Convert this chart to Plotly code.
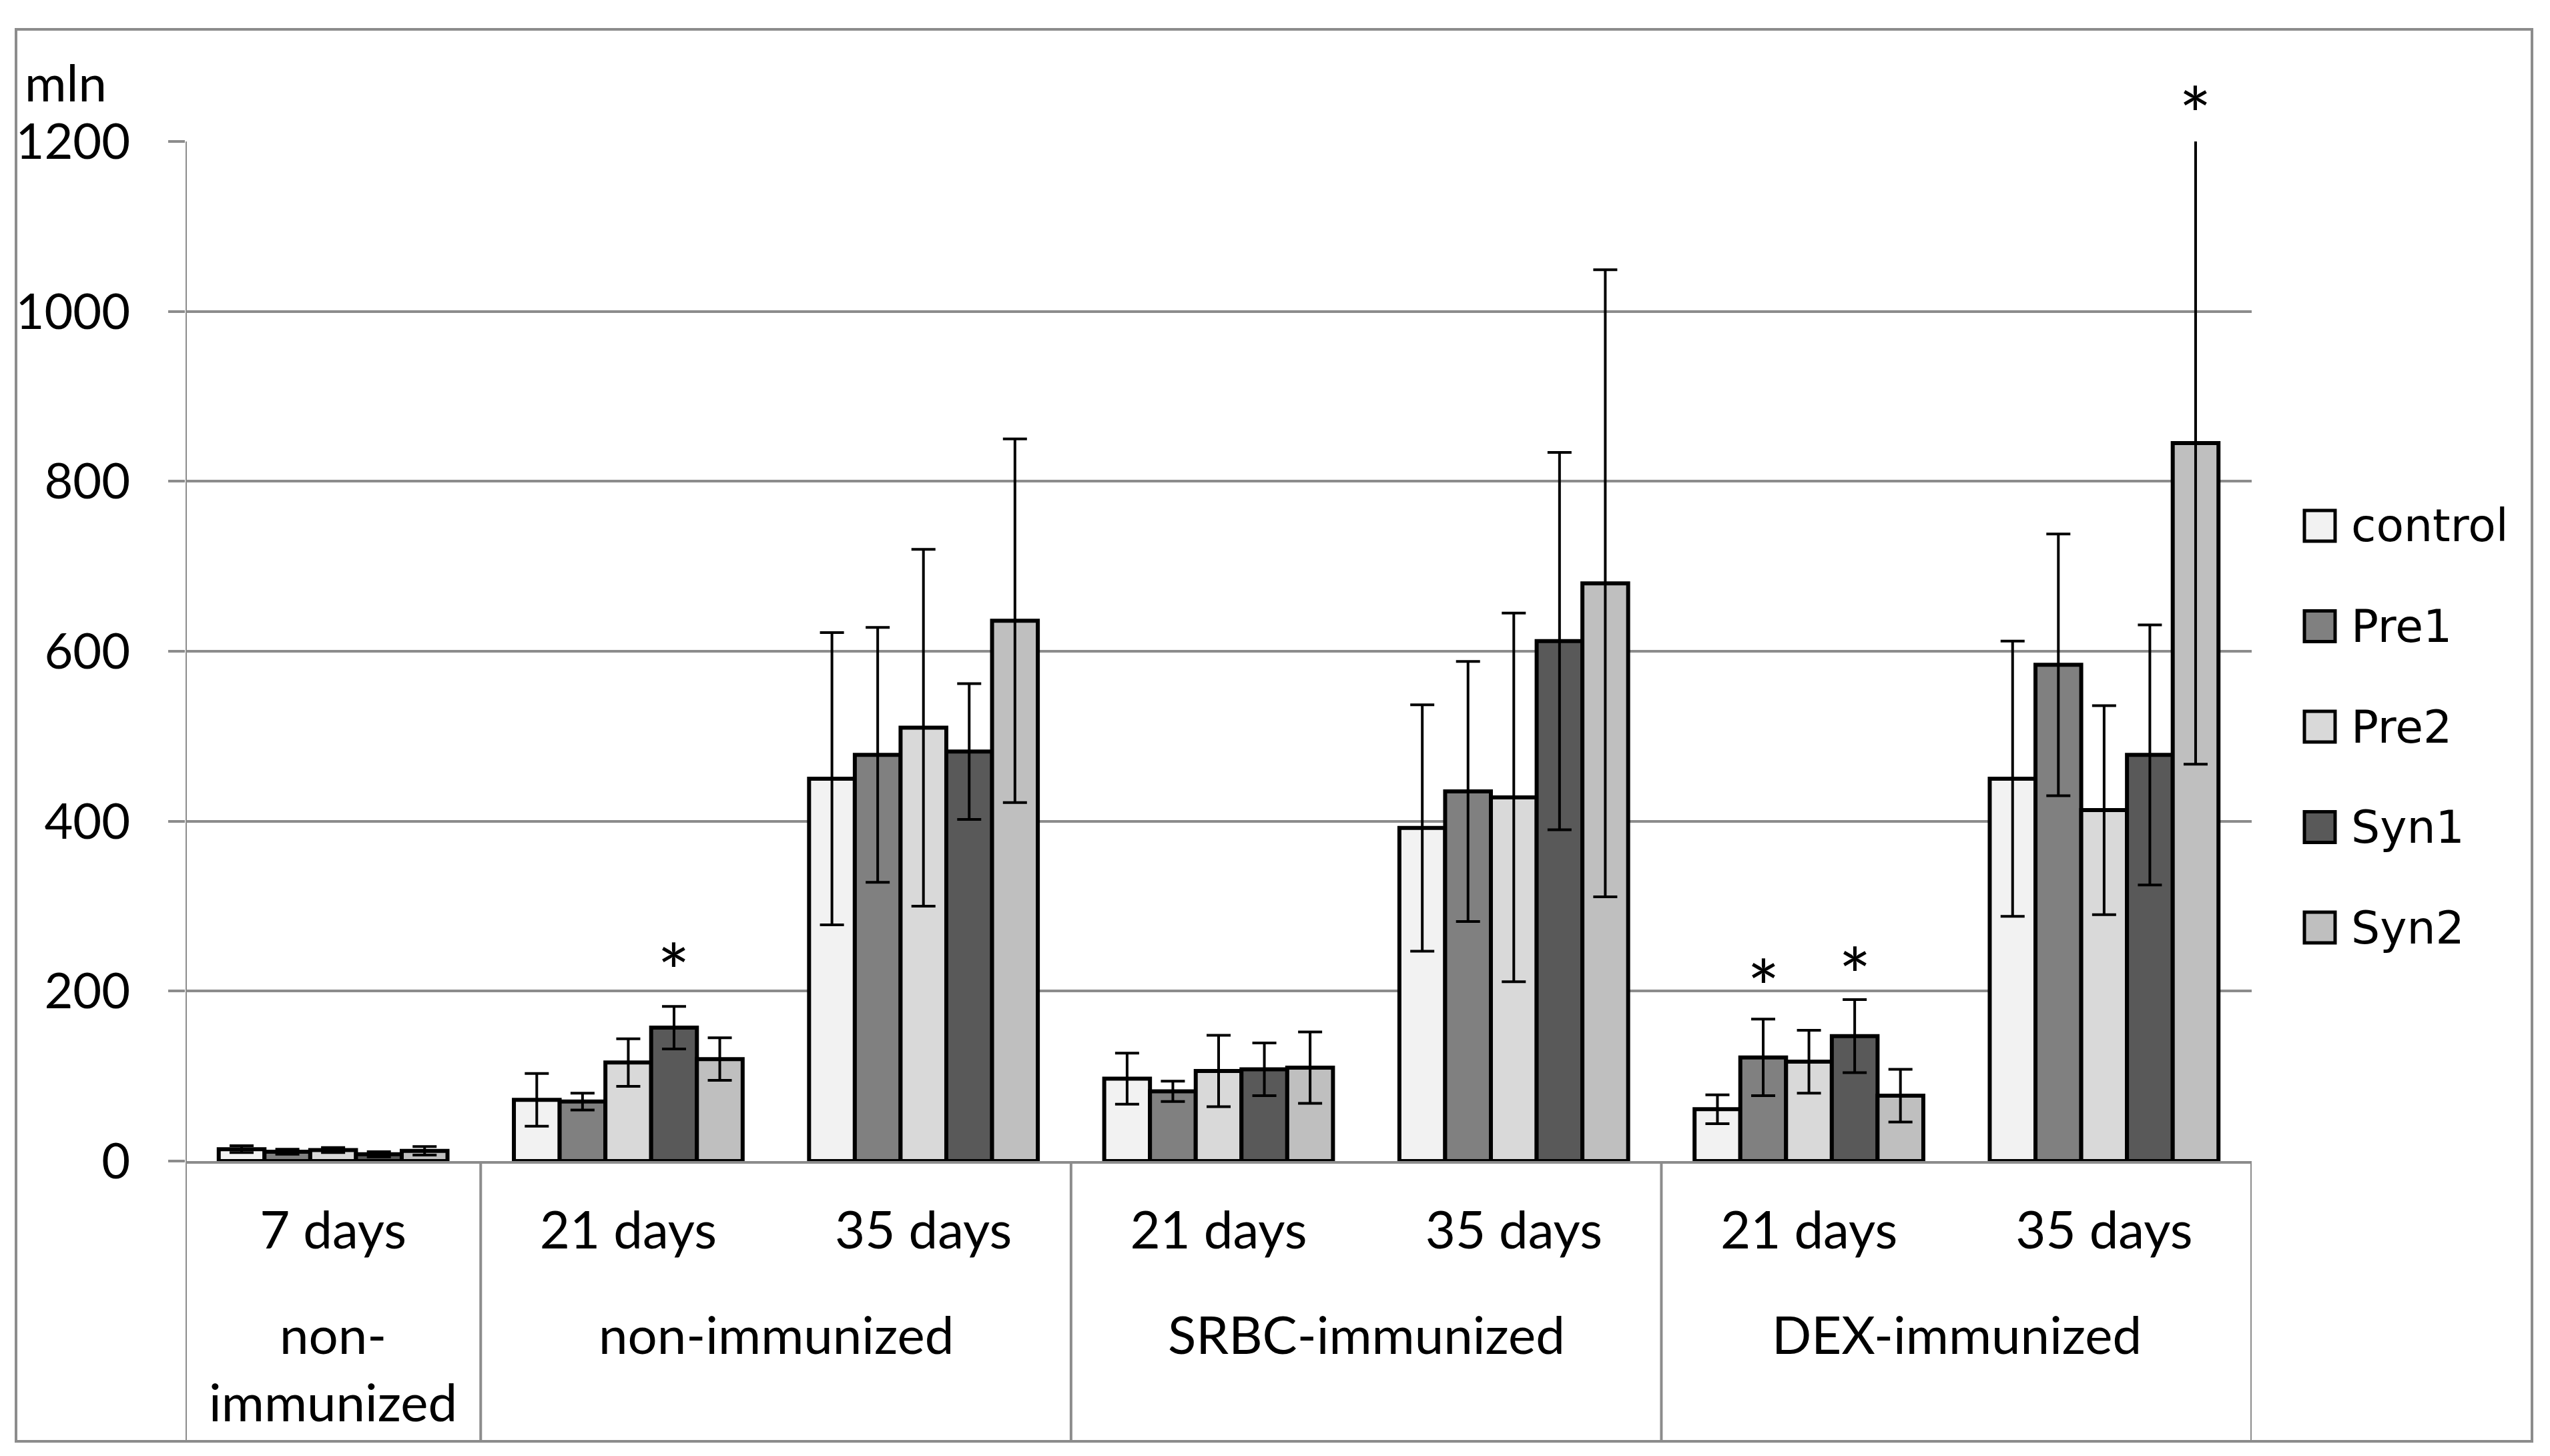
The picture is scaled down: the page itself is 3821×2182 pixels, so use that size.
import plotly.graph_objects as go

# ---------------- data ----------------
groups = ["non-<br>immunized", "non-immunized", "non-immunized",
          "SRBC-immunized", "SRBC-immunized", "DEX-immunized", "DEX-immunized"]
days = ["7 days", "21 days", "35 days", "21 days", "35 days", "21 days", "35 days"]
series = ["control", "Pre1", "Pre2", "Syn1", "Syn2"]

control = [14, 72, 450, 97, 392, 61, 450]
control_err = [4, 31, 172, 30, 145, 17, 162]
pre1 = [11, 70, 478, 82, 435, 122, 584]
pre1_err = [3, 10, 150, 12, 153, 45, 154]
pre2 = [13, 116, 510, 106, 428, 117, 413]
pre2_err = [3, 28, 210, 42, 217, 37, 123]
syn1 = [8, 157, 482, 108, 612, 147, 478]
syn1_err = [3, 25, 80, 31, 222, 43, 153]
syn2 = [12, 120, 636, 110, 680, 77, 845]
syn2_err = [5, 25, 214, 42, 369, 31, 378]

# significance marks: category index, series index, y value of the mark
star_cat = [1, 5, 5, 6]
star_series = [3, 1, 3, 4]
star_y = [243, 224, 238, 1251]

y_max = 1200
y_ticks = [0, 200, 400, 600, 800, 1000, 1200]
y_unit = "mln"

# ---------------- style ----------------
colors = ["#F2F2F2", "#808080", "#D9D9D9", "#595959", "#BFBFBF"]
W, H = 3821, 2182
L, R, T, B = 278, 3374, 212, 1740
GRID = "#8c8c8c"
FONT = "Lato"
BARGAP = 0.225


def px_x(p):
    return (p - L) / (R - L)


def px_y(p):
    return (B - p) / (B - T)


values = [control, pre1, pre2, syn1, syn2]
errors = [control_err, pre1_err, pre2_err, syn1_err, syn2_err]
keys = [f"{g.replace('<br>', '')} | {d}" for g, d in zip(groups, days)]

fig = go.Figure()
for name, vals, errs, col in zip(series, values, errors, colors):
    fig.add_trace(go.Bar(
        name=name, x=keys, y=vals,
        marker=dict(color=col, line=dict(color="black", width=6)),
        error_y=dict(type="data", array=errs, visible=True,
                     color="black", thickness=4, width=18),
        showlegend=False,
    ))

shapes = []
annotations = []

# outer frame
shapes.append(dict(type="rect", xref="paper", yref="paper",
                   x0=px_x(24), x1=px_x(3794), y0=px_y(2160), y1=px_y(44),
                   line=dict(color=GRID, width=4), layer="below"))
# left axis line extended through the category area
shapes.append(dict(type="line", xref="x", yref="paper", x0=-0.5, x1=-0.5,
                   y0=px_y(2160), y1=1, line=dict(color=GRID, width=4)))
# group separators in the category area
bounds = [i + 0.5 for i in range(len(keys) - 1) if groups[i] != groups[i + 1]] + [len(keys) - 0.5]
for b in bounds:
    shapes.append(dict(type="line", xref="x", yref="paper", x0=b, x1=b,
                       y0=px_y(2160), y1=0, line=dict(color=GRID, width=4)))

# group labels
start = 0
for i in range(1, len(keys) + 1):
    if i == len(keys) or groups[i] != groups[start]:
        annotations.append(dict(text=groups[start], xref="x", yref="paper",
                                x=(start + i - 1) / 2, y=px_y(1950),
                                xanchor="center", yanchor="top", showarrow=False,
                                font=dict(family=FONT, size=78, color="black")))
        start = i

# significance stars
nser = len(series)
wbar = (1 - BARGAP) / nser
for c, s, yv in zip(star_cat, star_series, star_y):
    annotations.append(dict(text="*", xref="x", yref="paper",
                            x=c - (1 - BARGAP) / 2 + (s + 0.5) * wbar, y=yv / y_max,
                            xanchor="center", yanchor="middle", yshift=-22,
                            showarrow=False,
                            font=dict(family=FONT, size=115, color="black")))

# unit label
annotations.append(dict(text=y_unit, xref="paper", yref="paper",
                        x=px_x(98), y=px_y(122), xanchor="center", yanchor="middle",
                        showarrow=False, font=dict(family=FONT, size=76, color="black")))

# legend (drawn manually to get large swatches)
for k, (name, col) in enumerate(zip(series, colors)):
    cy = 788 + 150.5 * k
    shapes.append(dict(type="rect", xref="paper", yref="paper",
                       x0=px_x(3453), x1=px_x(3499), y0=px_y(cy + 23), y1=px_y(cy - 23),
                       fillcolor=col, line=dict(color="black", width=5)))
    annotations.append(dict(text=name, xref="paper", yref="paper",
                            x=px_x(3521), y=px_y(cy), xanchor="left", yanchor="middle",
                            showarrow=False,
                            font=dict(family="DejaVu Sans", size=68, color="black")))

fig.update_layout(
    width=W, height=H, autosize=False,
    margin=dict(l=L, r=W - R, t=T, b=H - B, pad=0),
    paper_bgcolor="white", plot_bgcolor="white",
    barmode="group", bargap=BARGAP, bargroupgap=0,
    showlegend=False,
    shapes=shapes, annotations=annotations,
    font=dict(family=FONT, color="black"),
    xaxis=dict(type="category", categoryorder="array", categoryarray=keys,
               tickmode="array", tickvals=keys, ticktext=days,
               range=[-0.5, len(keys) - 0.5],
               showgrid=False, showline=True, linecolor=GRID, linewidth=4,
               ticks="", ticklabelstandoff=33,
               tickfont=dict(family=FONT, size=78, color="black")),
    yaxis=dict(range=[0, y_max], tickmode="array", tickvals=y_ticks,
               showgrid=True, gridcolor=GRID, gridwidth=4, zeroline=False,
               showline=False, ticks="outside", ticklen=25, tickwidth=4,
               tickcolor=GRID, ticklabelstandoff=42,
               tickfont=dict(family=FONT, size=74, color="black")),
)

fig.write_html("out.html", config={"displayModeBar": False},
               post_script="document.body.style.margin='0';")
